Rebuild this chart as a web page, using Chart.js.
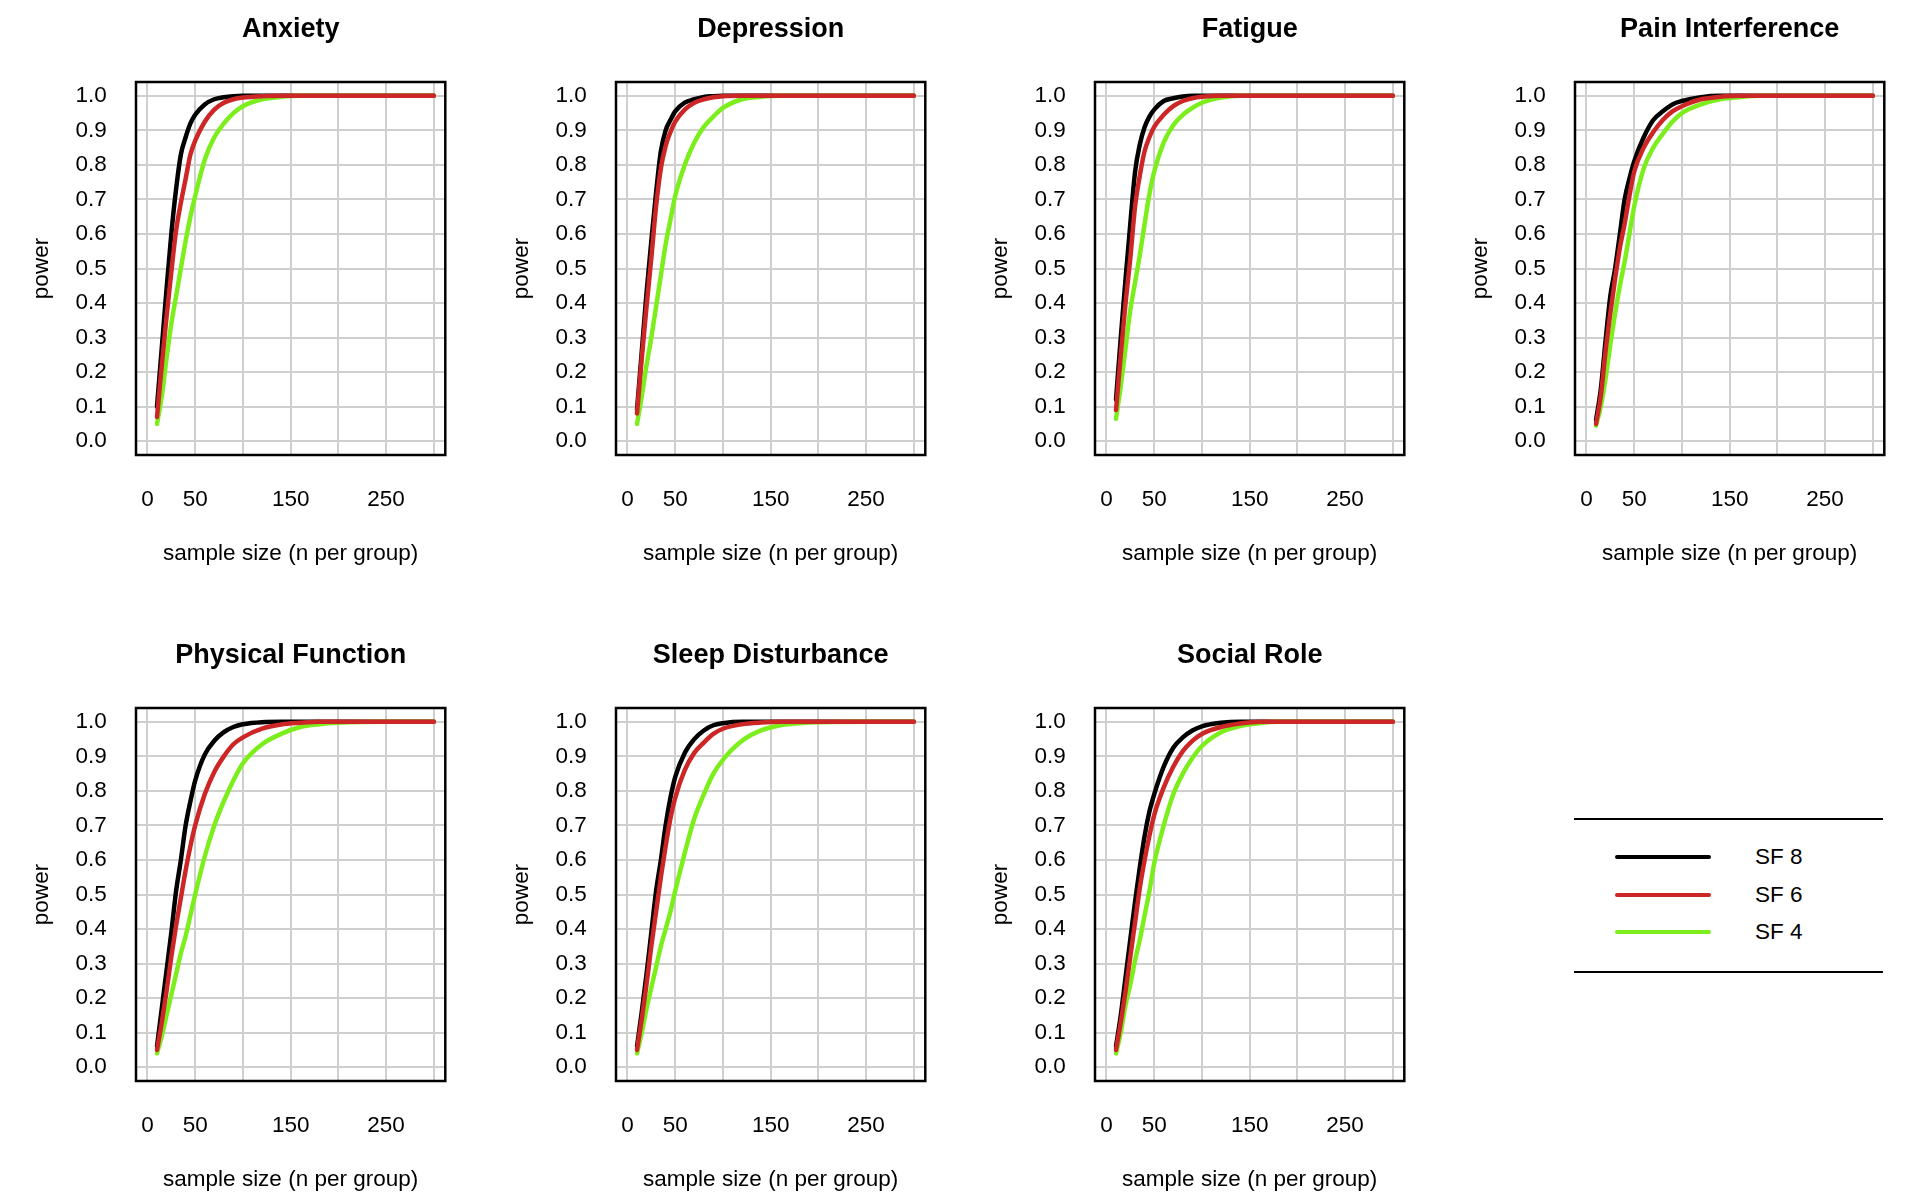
<!DOCTYPE html>
<html>
<head>
<meta charset="utf-8">
<script src="https://cdn.jsdelivr.net/npm/chart.js"></script>
<style>
  html, body { margin: 0; padding: 0; background: #fff; overflow: hidden; }
  body { width: 1920px; height: 1193px; position: relative; font-family: "Liberation Sans", Arial, sans-serif; }
  .panel { position: absolute; width: 480px; height: 570px; }
  .legend { position: absolute; left: 1574px; top: 818px; width: 309px; height: 151px;
            border-top: 2px solid #000; border-bottom: 2px solid #000; }
  .legend .row { position: absolute; left: 0; height: 30px; }
  .legend .swatch { position: absolute; left: 41px; top: 13px; width: 96px; height: 4px; border-radius: 2px; }
  .legend .label { position: absolute; left: 181px; top: 0; line-height: 30px; font-size: 22.5px; color: #000; white-space: nowrap; }
</style>
</head>
<body>
<script>
  // sample sizes (n per group) the curves are read at
  const sampleSizes = [10, 15, 20, 25, 30, 35, 40, 45, 50, 60, 70, 80, 90, 100, 120, 140, 160, 180, 200, 250, 300];

  const anxiety8 = [0.10, 0.27, 0.44, 0.60, 0.73, 0.83, 0.88, 0.92, 0.945, 0.975, 0.99, 0.996, 0.999, 1, 1, 1, 1, 1, 1, 1, 1];
  const anxiety6 = [0.07, 0.22, 0.36, 0.49, 0.61, 0.69, 0.76, 0.83, 0.87, 0.925, 0.96, 0.98, 0.99, 0.995, 0.999, 1, 1, 1, 1, 1, 1];
  const anxiety4 = [0.05, 0.13, 0.24, 0.34, 0.42, 0.50, 0.58, 0.65, 0.71, 0.815, 0.88, 0.92, 0.95, 0.97, 0.99, 0.997, 1, 1, 1, 1, 1];

  const depression8 = [0.09, 0.26, 0.43, 0.58, 0.72, 0.84, 0.90, 0.93, 0.955, 0.98, 0.99, 0.997, 0.999, 1, 1, 1, 1, 1, 1, 1, 1];
  const depression6 = [0.08, 0.24, 0.39, 0.53, 0.68, 0.79, 0.855, 0.895, 0.925, 0.96, 0.98, 0.99, 0.996, 0.999, 1, 1, 1, 1, 1, 1, 1];
  const depression4 = [0.05, 0.13, 0.22, 0.30, 0.39, 0.48, 0.57, 0.64, 0.71, 0.80, 0.865, 0.91, 0.94, 0.965, 0.99, 0.997, 1, 1, 1, 1, 1];

  const fatigue8 = [0.12, 0.30, 0.47, 0.63, 0.78, 0.86, 0.91, 0.94, 0.96, 0.985, 0.993, 0.998, 1, 1, 1, 1, 1, 1, 1, 1, 1];
  const fatigue6 = [0.09, 0.25, 0.40, 0.53, 0.68, 0.77, 0.84, 0.88, 0.91, 0.945, 0.97, 0.985, 0.993, 0.997, 1, 1, 1, 1, 1, 1, 1];
  const fatigue4 = [0.065, 0.16, 0.27, 0.38, 0.46, 0.54, 0.63, 0.715, 0.78, 0.865, 0.915, 0.945, 0.965, 0.98, 0.995, 1, 1, 1, 1, 1, 1];

  const pain8 = [0.06, 0.15, 0.29, 0.42, 0.50, 0.60, 0.70, 0.76, 0.81, 0.88, 0.93, 0.955, 0.975, 0.985, 0.996, 1, 1, 1, 1, 1, 1];
  const pain6 = [0.05, 0.13, 0.26, 0.37, 0.47, 0.56, 0.63, 0.71, 0.78, 0.85, 0.895, 0.93, 0.955, 0.97, 0.99, 0.997, 1, 1, 1, 1, 1];
  const pain4 = [0.045, 0.10, 0.18, 0.28, 0.37, 0.45, 0.52, 0.60, 0.68, 0.79, 0.85, 0.89, 0.925, 0.95, 0.975, 0.99, 0.996, 1, 1, 1, 1];

  const physical8 = [0.06, 0.17, 0.28, 0.39, 0.51, 0.60, 0.70, 0.77, 0.83, 0.905, 0.945, 0.97, 0.985, 0.993, 0.999, 1, 1, 1, 1, 1, 1];
  const physical6 = [0.05, 0.13, 0.22, 0.32, 0.41, 0.49, 0.57, 0.64, 0.70, 0.79, 0.855, 0.90, 0.935, 0.955, 0.98, 0.992, 0.997, 1, 1, 1, 1];
  const physical4 = [0.04, 0.09, 0.15, 0.21, 0.27, 0.33, 0.38, 0.44, 0.50, 0.61, 0.70, 0.77, 0.83, 0.88, 0.935, 0.965, 0.985, 0.993, 0.997, 1, 1];

  const sleep8 = [0.06, 0.16, 0.27, 0.39, 0.51, 0.60, 0.70, 0.78, 0.84, 0.91, 0.95, 0.975, 0.99, 0.996, 1, 1, 1, 1, 1, 1, 1];
  const sleep6 = [0.05, 0.14, 0.24, 0.35, 0.45, 0.55, 0.64, 0.72, 0.78, 0.86, 0.91, 0.94, 0.965, 0.98, 0.993, 0.998, 1, 1, 1, 1, 1];
  const sleep4 = [0.04, 0.10, 0.17, 0.23, 0.29, 0.35, 0.40, 0.45, 0.51, 0.62, 0.72, 0.79, 0.85, 0.89, 0.945, 0.975, 0.99, 0.996, 0.999, 1, 1];

  const social8 = [0.06, 0.15, 0.26, 0.37, 0.48, 0.58, 0.67, 0.74, 0.79, 0.87, 0.925, 0.955, 0.975, 0.987, 0.997, 1, 1, 1, 1, 1, 1];
  const social6 = [0.05, 0.13, 0.22, 0.32, 0.42, 0.52, 0.60, 0.67, 0.73, 0.81, 0.87, 0.915, 0.945, 0.965, 0.985, 0.995, 1, 1, 1, 1, 1];
  const social4 = [0.04, 0.10, 0.18, 0.24, 0.31, 0.37, 0.44, 0.51, 0.59, 0.70, 0.79, 0.85, 0.895, 0.93, 0.97, 0.988, 0.996, 1, 1, 1, 1];

  const panelTitles = ['Anxiety', 'Depression', 'Fatigue', 'Pain Interference',
                       'Physical Function', 'Sleep Disturbance', 'Social Role'];
  const panelSeries = [
    [anxiety8, anxiety6, anxiety4],
    [depression8, depression6, depression4],
    [fatigue8, fatigue6, fatigue4],
    [pain8, pain6, pain4],
    [physical8, physical6, physical4],
    [sleep8, sleep6, sleep4],
    [social8, social6, social4]
  ];

  const seriesNames = ['SF 8', 'SF 6', 'SF 4'];
  const seriesColors = ['#000000', '#cd2626', '#7cee1c'];
  const seriesOrder = [2, 0, 1]; // red on top, as in the original

  const xGrid = [0, 50, 100, 150, 200, 250, 300];
  const xTickLabels = [0, 50, 150, 250];
  const yGrid = [0, 0.1, 0.2, 0.3, 0.4, 0.5, 0.6, 0.7, 0.8, 0.9, 1.0];

  const colLeft = [0, 480, 959, 1439];
  const rowTop = [0, 626];

  Chart.defaults.font.family = '"Liberation Sans", Arial, sans-serif';
  Chart.defaults.color = '#000';

  // black frame round the plot region
  const boxPlugin = {
    id: 'box',
    afterDraw(chart) {
      const { ctx, chartArea: a } = chart;
      ctx.save();
      ctx.strokeStyle = '#000';
      ctx.lineWidth = 2.5;
      ctx.strokeRect(a.left, a.top, a.right - a.left, a.bottom - a.top);
      ctx.restore();
    }
  };

  panelTitles.forEach((title, p) => {
    const div = document.createElement('div');
    div.className = 'panel';
    div.style.left = colLeft[p % 4] + 'px';
    div.style.top = rowTop[Math.floor(p / 4)] + 'px';
    const canvas = document.createElement('canvas');
    canvas.width = 480;
    canvas.height = 570;
    div.appendChild(canvas);
    document.body.appendChild(div);

    const datasets = panelSeries[p].map((vals, i) => ({
      label: seriesNames[i],
      data: sampleSizes.map((n, k) => ({ x: n, y: vals[k] })),
      borderColor: seriesColors[i],
      borderWidth: 4.5,
      borderCapStyle: 'round',
      borderJoinStyle: 'round',
      pointRadius: 0,
      cubicInterpolationMode: 'monotone',
      order: seriesOrder[i]
    }));

    new Chart(canvas, {
      type: 'line',
      data: { datasets },
      options: {
        responsive: false,
        animation: false,
        layout: { padding: { left: 0, right: 34.7, top: 0, bottom: 2.3 } },
        plugins: {
          legend: { display: false },
          tooltip: { enabled: false },
          title: {
            display: true,
            text: title,
            fullSize: false,
            color: '#000',
            font: { size: 27, weight: 'bold' },
            padding: { top: 13.2, bottom: 36.4 }
          }
        },
        scales: {
          x: {
            type: 'linear',
            min: -12,
            max: 312,
            afterBuildTicks: axis => { axis.ticks = xGrid.map(v => ({ value: v })); },
            afterFit: axis => { axis.height = 112.7; },
            grid: { color: '#cfcfcf', lineWidth: 2, drawTicks: false },
            border: { display: false },
            ticks: {
              autoSkip: false,
              maxRotation: 0,
              padding: 30.9,
              font: { size: 22.5 },
              callback: v => xTickLabels.includes(v) ? String(v) : ''
            },
            title: {
              display: true,
              text: 'sample size (n per group)',
              font: { size: 22.5 },
              padding: { top: 0, bottom: 0 }
            }
          },
          y: {
            type: 'linear',
            min: -0.04,
            max: 1.04,
            afterBuildTicks: axis => { axis.ticks = yGrid.map(v => ({ value: v })); },
            afterFit: axis => { axis.width = 136; },
            grid: { color: '#cfcfcf', lineWidth: 2, drawTicks: false },
            border: { display: false },
            ticks: {
              padding: 29.3,
              font: { size: 22.5 },
              callback: v => v.toFixed(1)
            },
            title: {
              display: true,
              text: 'power',
              font: { size: 22.5 },
              padding: { top: 28.5, bottom: 0 }
            }
          }
        }
      },
      plugins: [boxPlugin]
    });
  });

  // legend box in the empty eighth cell
  const legend = document.createElement('div');
  legend.className = 'legend';
  seriesNames.forEach((name, i) => {
    const row = document.createElement('div');
    row.className = 'row';
    row.style.top = (22 + i * 37.5) + 'px';
    const sw = document.createElement('div');
    sw.className = 'swatch';
    sw.style.background = seriesColors[i];
    const lab = document.createElement('div');
    lab.className = 'label';
    lab.textContent = name;
    row.appendChild(sw);
    row.appendChild(lab);
    legend.appendChild(row);
  });
  document.body.appendChild(legend);
</script>
</body>
</html>
